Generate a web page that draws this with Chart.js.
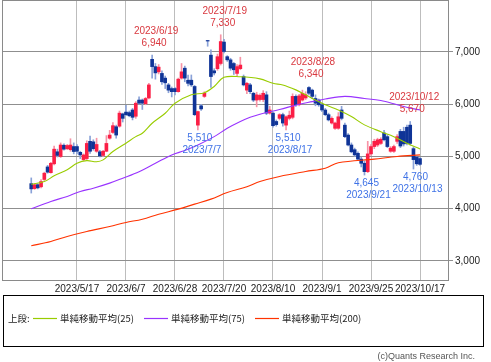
<!DOCTYPE html>
<html><head><meta charset="utf-8">
<script src="https://cdn.jsdelivr.net/npm/chart.js@4/dist/chart.umd.min.js"></script>
<style>html,body{margin:0;padding:0;background:#fff;}</style>
</head><body>
<canvas id="c" width="491" height="362"></canvas>
<script>
// ---- data ----
const dates = [
'2023/4/24','2023/4/25','2023/4/26','2023/4/27','2023/4/28',
'2023/5/1','2023/5/2','2023/5/8','2023/5/9','2023/5/10','2023/5/11','2023/5/12','2023/5/15','2023/5/16','2023/5/17','2023/5/18','2023/5/19','2023/5/22','2023/5/23','2023/5/24','2023/5/25','2023/5/26','2023/5/29','2023/5/30','2023/5/31',
'2023/6/1','2023/6/2','2023/6/5','2023/6/6','2023/6/7','2023/6/8','2023/6/9','2023/6/12','2023/6/13','2023/6/14','2023/6/15','2023/6/16','2023/6/19','2023/6/20','2023/6/21','2023/6/22','2023/6/23','2023/6/26','2023/6/27','2023/6/28','2023/6/29','2023/6/30',
'2023/7/3','2023/7/4','2023/7/5','2023/7/6','2023/7/7','2023/7/10','2023/7/11','2023/7/12','2023/7/13','2023/7/14','2023/7/18','2023/7/19','2023/7/20','2023/7/21','2023/7/24','2023/7/25','2023/7/26','2023/7/27','2023/7/28','2023/7/31',
'2023/8/1','2023/8/2','2023/8/3','2023/8/4','2023/8/7','2023/8/8','2023/8/9','2023/8/10','2023/8/14','2023/8/15','2023/8/16','2023/8/17','2023/8/18','2023/8/21','2023/8/22','2023/8/23','2023/8/24','2023/8/25','2023/8/28','2023/8/29','2023/8/30','2023/8/31',
'2023/9/1','2023/9/4','2023/9/5','2023/9/6','2023/9/7','2023/9/8','2023/9/11','2023/9/12','2023/9/13','2023/9/14','2023/9/15','2023/9/19','2023/9/20','2023/9/21','2023/9/22','2023/9/25','2023/9/26','2023/9/27','2023/9/28','2023/9/29',
'2023/10/2','2023/10/3','2023/10/4','2023/10/5','2023/10/6','2023/10/10','2023/10/11','2023/10/12','2023/10/13','2023/10/16','2023/10/17'];

const open = [
4480,4385,4460,4420,4560,4800,4690,4860,5090,5000,
5215,5150,5130,5190,5190,5080,4940,4960,5290,5280,
5100,5090,5020,5100,5350,5460,5570,5580,5815,5850,
5840,5890,5770,6080,6080,6010,6120,6860,6720,6620,
6590,6500,6370,6300,6300,6240,6500,6690,6460,6460,
6340,5600,5970,6150,7220,6940,6640,6680,6780,7190,
6910,6850,6780,6590,6680,6530,6270,6370,6210,6080,
6090,6090,6180,5830,5830,5670,5730,5800,5600,5730,
5750,6150,5990,6080,6120,6320,6270,6110,6080,5990,
5890,5800,5640,5540,5540,5890,5600,5410,5220,5130,
5060,4950,4870,4710,5050,5190,5220,5250,5450,5380,
5100,5100,5290,5480,5480,5560,5600,5150,4990,4960];
const high = [
4590,4480,4480,4560,4700,4830,4890,5200,5140,5260,
5240,5230,5340,5260,5230,5100,5050,5300,5390,5320,
5350,5120,5120,5400,5500,5650,5600,5870,5830,5980,
5870,5920,6050,6140,6100,6130,6400,6940,6780,6760,
6640,6540,6400,6330,6320,6500,6780,6730,6560,6560,
6360,5870,6000,6240,7220,7040,6680,6960,7330,7240,
6930,6880,6800,6760,6900,6560,6420,6400,6230,6230,
6200,6260,6240,5960,5850,5700,5820,5830,5780,5870,
6200,6180,6190,6270,6240,6340,6290,6180,6100,6020,
5920,5830,5760,5660,5840,5960,5640,5440,5260,5160,
5090,4990,4910,5290,5230,5330,5350,5360,5500,5420,
5190,5220,5420,5520,5560,5600,5670,5180,5000,4980];
const low = [
4300,4370,4380,4400,4540,4680,4680,4840,4990,4980,
5120,5130,5100,5050,5050,4960,4920,4940,5060,5120,
5080,4990,5000,5090,5330,5440,5350,5560,5660,5780,
5760,5700,5730,6000,5900,5990,6100,6500,6480,6580,
6380,6300,6220,6140,6180,6230,6480,6430,6350,6340,
5780,5510,5880,6130,7110,6320,6560,6650,6750,6980,
6820,6650,6570,6540,6660,6350,6200,6200,6050,5950,
6060,6050,5800,5810,5560,5580,5700,5580,5510,5700,
5720,5960,5970,6060,6090,6180,6110,5970,5960,5860,
5780,5680,5620,5520,5520,5700,5360,5200,5070,5000,
4930,4800,4645,4690,5020,5150,5190,5230,5300,5170,
5080,5080,5250,5170,5200,5220,5220,4760,4830,4830];
const close = [
4380,4460,4400,4520,4680,4700,4870,5140,5020,5220,
5140,5210,5220,5095,5100,5030,5030,5250,5100,5150,
5230,5010,5100,5250,5410,5590,5410,5830,5730,5800,
5780,5750,6020,6020,6020,6110,6370,6720,6600,6710,
6430,6410,6270,6240,6240,6480,6620,6500,6400,6370,
5800,5860,5910,6210,7210,6530,6600,6910,7200,7010,
6850,6690,6660,6720,6750,6370,6400,6240,6080,6180,
6170,6210,5830,5890,5590,5610,5800,5640,5760,5790,
6150,5990,6160,6210,6180,6210,6150,6020,5990,5890,
5800,5700,5730,5640,5760,5730,5380,5220,5090,5030,
4950,4870,4710,5050,5190,5290,5320,5330,5320,5190,
5160,5190,5380,5200,5240,5250,5250,4940,4860,4850];

// moving averages (position = trading-day index in dates)
const ma25Pos = [0,4,7,11,14,17,20,22,25,29,32,34,37,41,44,49,53,56,59,64,70,74,77,81,84,87,90,94,98,102,107,111,115,119];
const ma25Val = [4470,4520,4630,4745,4870,4920,4900,4935,5095,5255,5380,5445,5636,5827,6020,6180,6220,6340,6515,6525,6485,6400,6370,6275,6180,6080,5990,5890,5765,5605,5475,5380,5255,5145];
const ma75Pos = [0,6,11,15,19,24,28,33,38,43,47,51,56,60,64,67,70,76,82,86,90,96,102,107,112,116,119];
const ma75Val = [4000,4140,4235,4330,4393,4490,4585,4710,4870,5030,5115,5220,5380,5540,5670,5750,5810,5900,6000,6050,6100,6150,6110,6070,5990,5925,5890];
const ma200Pos = [0,6,11,17,24,29,34,39,45,50,55,60,66,70,76,84,90,94,105,112,119];
const ma200Val = [3290,3374,3470,3565,3660,3737,3800,3896,3992,4088,4184,4310,4420,4520,4617,4712,4776,4880,4950,5000,5030];

const xTickLabels = ['2023/5/17','2023/6/7','2023/6/28','2023/7/20','2023/8/10','2023/9/1','2023/9/25','2023/10/17'];
const yTicks = [3000,4000,5000,6000,7000];

const annotDates  = ['2023/6/19','2023/7/19','2023/8/28','2023/10/12','2023/7/7','2023/8/17','2023/9/21','2023/10/13'];
const annotValues = [6940,7330,6340,5670,5510,5510,4645,4760];
const annotKinds  = ['high','high','high','high','low','low','low','low'];

const legendPrefix = '上段:';
const seriesNames = ['単純移動平均(25)','単純移動平均(75)','単純移動平均(200)'];
const copyright = '(c)Quants Research Inc.';

// ---- styles ----
const UP_BODY='#fb1e45', DOWN_BODY='#0f3497', UP_WICK='#f793a6', DOWN_WICK='#8aa2d8';
const MA_COLORS=['#99cc00','#9933ff','#ff3300'];
const HIGH_TXT='#d9383f', LOW_TXT='#3f72e6';
const FONT='"Liberation Sans", Arial, sans-serif';
const CJK='"Noto Sans CJK JP", sans-serif';

const fmt = v => v.toLocaleString('en-US');
const isUp = dates.map((d,k)=>close[k]>=open[k]);
const wickData = dates.map((d,k)=>({x:k,y:[low[k],high[k]]}));
const bodyData = dates.map((d,k)=>({x:k,y:[Math.min(open[k],close[k]),Math.max(open[k],close[k])]}));
const line = (pos,val)=>pos.map((p,j)=>({x:p,y:val[j]}));

const decor = {
  id:'decor',
  beforeDatasetsDraw(chart){
    const {ctx, chartArea:a} = chart;
    ctx.save();
    ctx.strokeStyle='#8a8a8a'; ctx.lineWidth=1;
    ctx.strokeRect(a.left-0.5, a.top-0.5, a.right-a.left+1, a.bottom-a.top+1);
    ctx.restore();
  },
  afterDraw(chart){
    const {ctx, chartArea:a, scales} = chart;
    const xs=scales.x, ys=scales.y;
    ctx.save();
    // annotations
    ctx.font='10px '+FONT; ctx.textAlign='center'; ctx.textBaseline='middle';
    annotDates.forEach((d,j)=>{
      const k=dates.indexOf(d);
      const px=xs.getPixelForValue(k), py=ys.getPixelForValue(annotValues[j]);
      if(annotKinds[j]==='high'){
        ctx.fillStyle=HIGH_TXT;
        ctx.fillText(fmt(annotValues[j]), px+2, py-12);
        ctx.fillText(d, px+4, py-24);
      } else {
        ctx.fillStyle=LOW_TXT;
        ctx.fillText(fmt(annotValues[j]), px+2, py+8);
        ctx.fillText(d, px+4, py+20);
      }
    });
    // legend box
    ctx.strokeStyle='#000'; ctx.lineWidth=1;
    ctx.strokeRect(3.5, 295.5, 480, 51);
    ctx.fillStyle='#222'; ctx.textAlign='left'; ctx.textBaseline='middle';
    ctx.font='9.5px '+CJK;
    ctx.fillText(legendPrefix, 8, 318);
    const lx=[33,144,255];
    seriesNames.forEach((s,j)=>{
      ctx.strokeStyle=MA_COLORS[j]; ctx.lineWidth=1.2;
      ctx.beginPath(); ctx.moveTo(lx[j],318.5); ctx.lineTo(lx[j]+24,318.5); ctx.stroke();
      ctx.fillStyle='#222';
      ctx.fillText(s, lx[j]+27, 318);
    });
    // copyright
    ctx.font='9px '+FONT; ctx.fillStyle='#555'; ctx.textAlign='right';
    ctx.fillText(copyright, 475, 357);
    ctx.restore();
  }
};

new Chart(document.getElementById('c'), {
  type:'bar',
  data:{ datasets:[
    {type:'line', label:seriesNames[0], data:line(ma25Pos,ma25Val), borderColor:MA_COLORS[0], borderWidth:1.1, pointRadius:0, tension:0.35, order:0},
    {type:'line', label:seriesNames[1], data:line(ma75Pos,ma75Val), borderColor:MA_COLORS[1], borderWidth:1.1, pointRadius:0, tension:0.35, order:0},
    {type:'line', label:seriesNames[2], data:line(ma200Pos,ma200Val), borderColor:MA_COLORS[2], borderWidth:1.1, pointRadius:0, tension:0.35, order:0},
    {label:'body', data:bodyData, backgroundColor:isUp.map(u=>u?UP_BODY:DOWN_BODY), barThickness:3, grouped:false, borderWidth:0, borderSkipped:false, order:1},
    {label:'wick', data:wickData, backgroundColor:isUp.map(u=>u?UP_WICK:DOWN_WICK), barThickness:1, grouped:false, borderWidth:0, borderSkipped:false, order:2}
  ]},
  options:{
    responsive:false, animation:false, devicePixelRatio:1,
    layout:{padding:{left:3,top:1,right:0,bottom:0}},
    plugins:{legend:{display:false}, tooltip:{enabled:false}},
    scales:{
      x:{type:'linear', offset:false, min:-8.65, max:127.57,
        afterBuildTicks(ax){ ax.ticks = xTickLabels.map(d=>({value:dates.indexOf(d)})); },
        afterFit(ax){ ax.height=82; ax.paddingLeft=0; ax.paddingRight=0; },
        ticks:{autoSkip:false, maxRotation:0, padding:3, color:'#222', font:{family:FONT,size:10}, callback:v=>dates[v]},
        grid:{color:'#bdbdbd', lineWidth:1, drawTicks:false, offset:false},
        border:{display:false}
      },
      y:{type:'linear', position:'right', min:2636, max:7976,
        afterBuildTicks(ax){ ax.ticks = yTicks.map(v=>({value:v})); },
        afterFit(ax){ ax.width=43; ax.paddingTop=0; ax.paddingBottom=0; },
        ticks:{padding:2, color:'#222', font:{family:FONT,size:10}, callback:v=>fmt(v)},
        grid:{color:'#8f8f8f', lineWidth:1, drawTicks:true, tickLength:5, tickColor:'#8f8f8f'},
        border:{display:false}
      }
    }
  },
  plugins:[decor]
});
</script>
</body></html>
